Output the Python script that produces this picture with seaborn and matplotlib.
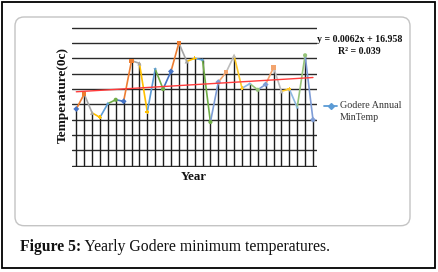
import numpy as np
import pandas as pd
import matplotlib
matplotlib.use("Agg")
import matplotlib.pyplot as plt
import seaborn as sns
from matplotlib.patches import FancyBboxPatch, Rectangle
from matplotlib.lines import Line2D
from matplotlib.transforms import IdentityTransform

# ---------------- data ----------------
years = list(range(1, 32))
min_temp = [16.74, 16.935, 16.69, 16.63, 16.81, 16.86, 16.84, 17.37, 17.335, 16.70,
            17.26, 17.00, 17.23, 17.60, 17.36, 17.40, 17.38, 16.57, 17.09, 17.22,
            17.435, 17.01, 17.07, 16.99, 17.06, 17.28, 16.97, 17.00, 16.76, 17.44,
            16.60]
trend_slope = 0.0062
trend_intercept = 16.958
grid_levels = [16.0, 16.2, 16.4, 16.6, 16.8, 17.0, 17.2, 17.4, 17.6, 17.8]
series_label = "Godere Annual\nMinTemp"
eq_text = "y = 0.0062x + 16.958"
r2_text = "R\u00b2 = 0.039"
x_label = "Year"
y_label = "Temperature(0c)"
caption_bold = "Figure 5:"
caption_rest = " Yearly Godere minimum temperatures."

accent = ["#4472C4", "#ED7D31", "#A5A5A5", "#FFC000", "#5B9BD5", "#70AD47"]
accent_light = ["#7E9CD6", "#F2A46E", "#BDBDBD", "#FFC928", "#8DB9E2", "#96C47A"]
marker_cycle = ["D", "s", "^", "P", "*", "o"]

# ---------------- figure ----------------
sns.set_style("white")
plt.rcParams["font.family"] = ["Liberation Serif", "DejaVu Serif"]

W, H = 438, 272
fig = plt.figure(figsize=(W / 100, H / 100), dpi=100)
fig.patch.set_facecolor("white")

# outer black frame and inner rounded panel
fig.patches.append(Rectangle((2, 4), 433, 266, fill=False, ec="black", lw=1.3,
                             transform=IdentityTransform(), figure=fig))
fig.patches.append(FancyBboxPatch((15, H - 225.7), 395, 208.7,
                                  boxstyle="round,pad=0,rounding_size=9",
                                  fill=False, ec="#c4c4c4", lw=1.0,
                                  transform=IdentityTransform(), figure=fig))

ax = fig.add_axes([72 / W, (H - 166.5) / H, 245 / W, 139.6 / H])
ax.set_facecolor("none")

point_colors = [(accent if i < 18 else accent_light)[i % 6] for i in range(len(years))]

# drop lines
ax.vlines(years, grid_levels[0], min_temp, color="#1e1e1e", lw=1.0, zorder=1)

# coloured segments (vary colours by point)
rows = []
for i in range(len(years) - 1):
    for j in (i, i + 1):
        rows.append({"seg": f"s{i}", "year": years[j], "temp": min_temp[j]})
seg_df = pd.DataFrame(rows)
seg_pal = {f"s{i}": point_colors[i + 1] for i in range(len(years) - 1)}
sns.lineplot(data=seg_df, x="year", y="temp", hue="seg", palette=seg_pal,
             legend=False, lw=1.2, sort=False, estimator=None, ax=ax, zorder=3)

# markers
pt_df = pd.DataFrame({"year": years, "temp": min_temp,
                      "pt": [f"p{i}" for i in range(len(years))]})
pt_pal = {f"p{i}": point_colors[i] for i in range(len(years))}
pt_mk = {f"p{i}": marker_cycle[i % 6] for i in range(len(years))}
sns.scatterplot(data=pt_df, x="year", y="temp", hue="pt", style="pt",
                palette=pt_pal, markers=pt_mk, s=9, linewidth=0,
                legend=False, ax=ax, zorder=4)

# linear trend line
xt = np.array([years[0], years[-1]], dtype=float)
ax.plot(xt, trend_intercept + trend_slope * xt, color="#FF3B3B", lw=1.0, zorder=5)

ax.set_xlim(0.455, 31.51)
ax.set_ylim(15.99, 17.81)
ax.set_yticks(grid_levels)
ax.set_yticklabels([])
ax.set_xticks([])
ax.tick_params(length=0)
ax.yaxis.grid(True, color="#2a2a2a", lw=1.0)
ax.set_axisbelow(True)
for s in ax.spines.values():
    s.set_visible(False)

ax.set_xlabel(x_label, fontsize=9.3, fontweight="bold", color="#111111")
ax.xaxis.set_label_coords(0.498, -0.03)
ax.set_ylabel("")
fig.text(63 / W, 1 - 95 / H, y_label, rotation=90, ha="center", va="center",
         fontsize=9.6, fontweight="bold", color="#111111")

# trendline equation
fig.text(360 / W, 1 - 40 / H, eq_text, ha="center", va="center",
         fontsize=7.1, fontweight="bold", color="#111111")
fig.text(359 / W, 1 - 52 / H, r2_text, ha="center", va="center",
         fontsize=7.1, fontweight="bold", color="#111111")

# legend (drawn manually)
fig.lines.append(Line2D([324 / W, 337 / W], [1 - 106 / H, 1 - 106 / H],
                        transform=fig.transFigure, color="#5B9BD5", lw=1.3))
fig.lines.append(Line2D([330.5 / W], [1 - 106 / H], transform=fig.transFigure,
                        color="#5B9BD5", marker="D", ms=3, lw=0))
fig.text(340 / W, 1 - 106 / H, "Godere Annual", ha="left", va="center",
         fontsize=7.2, color="#333333")
fig.text(340 / W, 1 - 118 / H, "MinTemp", ha="left", va="center",
         fontsize=7.2, color="#333333")

# caption
t1 = fig.text(20 / W, 21.3 / H, caption_bold, ha="left", va="baseline",
              fontsize=11.3, fontweight="bold", color="#111111")
fig.canvas.draw()
bb = t1.get_window_extent()
fig.text(bb.x1 / W, 21.3 / H, caption_rest, ha="left", va="baseline",
         fontsize=11.3, color="#111111")

fig.savefig("out.png", dpi=100)
